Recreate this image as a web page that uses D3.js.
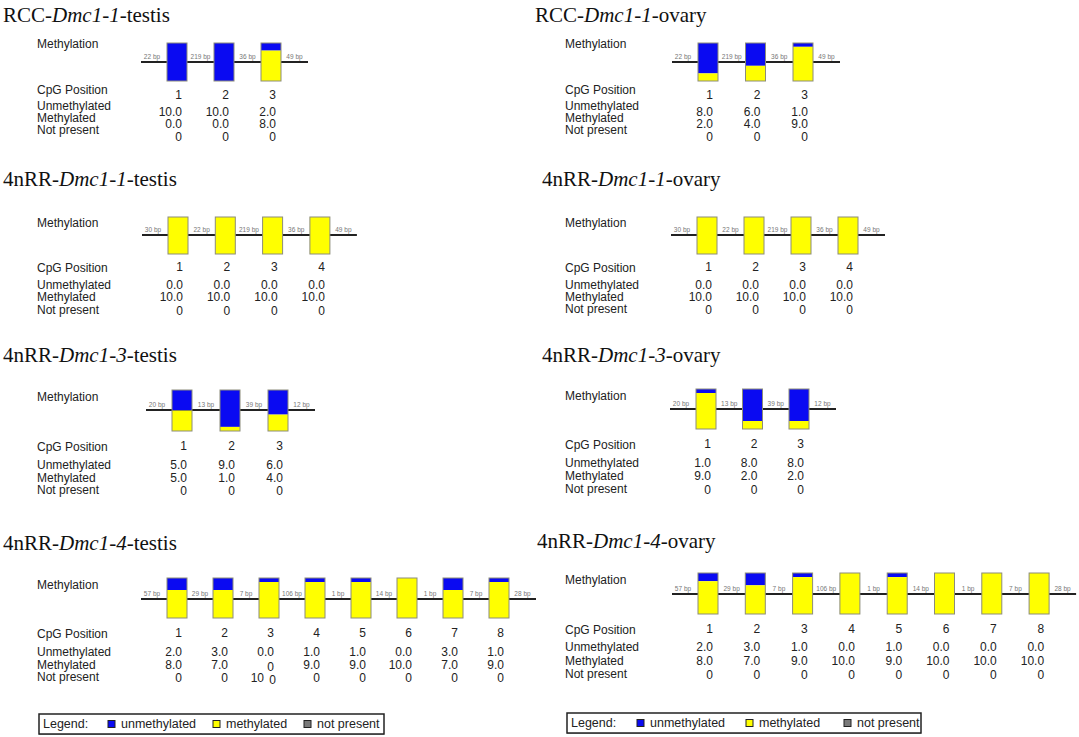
<!DOCTYPE html>
<html>
<head>
<meta charset="utf-8">
<script src="https://cdn.jsdelivr.net/npm/d3@7"></script>
<style>
  body { margin: 0; background: #fff; }
  svg { display: block; }
</style>
</head>
<body>
<div id="chart"></div>
<script>
// ---- data ----
// base-pair gaps between CpG sites, one list per amplicon
var gapsRCC = [22, 219, 36, 49];
var gapsDmc1_1 = [30, 22, 219, 36, 49];
var gapsDmc1_3 = [20, 13, 39, 12];
var gapsDmc1_4 = [57, 29, 7, 106, 1, 14, 1, 7, 28];

// clone counts per CpG site (10 clones each)
var rccTestisUn = [10, 10, 2],  rccTestisMe = [0, 0, 8];
var rccOvaryUn = [8, 6, 1],     rccOvaryMe = [2, 4, 9];
var d11TestisUn = [0, 0, 0, 0], d11TestisMe = [10, 10, 10, 10];
var d11OvaryUn = [0, 0, 0, 0],  d11OvaryMe = [10, 10, 10, 10];
var d13TestisUn = [5, 9, 6],    d13TestisMe = [5, 1, 4];
var d13OvaryUn = [1, 8, 8],     d13OvaryMe = [9, 2, 2];
var d14TestisUn = [2, 3, 0, 1, 1, 0, 3, 1], d14TestisMe = [8, 7, 10, 9, 9, 10, 7, 9];
var d14OvaryUn = [2, 3, 1, 0, 1, 0, 0, 0],  d14OvaryMe = [8, 7, 9, 10, 9, 10, 10, 10];
// the testis Dmc1-4 bars are drawn with slightly different blue parts than the table
var d14TestisBarUn = [3, 3, 1, 1, 1, 0, 3, 1];

var rowLabels = ["Unmethylated", "Methylated", "Not present"];
var legendItems = ["unmethylated", "methylated", "not present"];
var clones = 10;

var colors = {un: "#0a0af2", me: "#ffff00", np: "#7a7a7a"};

// ---- layout of the eight panels ----
var panels = [
  {title: ["RCC-", "Dmc1-1", "-testis"], tx: 3, ty: 22, lx: 37, methY: 44, lineY: 62,
   barTop: 43, barH: 38, bar0: 167, step: 47, cpgY: 90, rowY: [106, 118, 130], vdy: 6,
   gaps: gapsRCC, un: rccTestisUn, me: rccTestisMe},
  {title: ["RCC-", "Dmc1-1", "-ovary"], tx: 535, ty: 22, lx: 565, methY: 44, lineY: 62,
   barTop: 43, barH: 38, bar0: 698, step: 47.5, cpgY: 90, rowY: [106, 118, 130], vdy: 6,
   gaps: gapsRCC, un: rccOvaryUn, me: rccOvaryMe},
  {title: ["4nRR-", "Dmc1-1", "-testis"], tx: 3, ty: 186, lx: 37, methY: 223, lineY: 235,
   barTop: 217, barH: 37, bar0: 168, step: 47.3, cpgY: 268, rowY: [285, 297, 310], vdy: 0,
   gaps: gapsDmc1_1, un: d11TestisUn, me: d11TestisMe},
  {title: ["4nRR-", "Dmc1-1", "-ovary"], tx: 542, ty: 186, lx: 565, methY: 223, lineY: 235,
   barTop: 217, barH: 37, bar0: 697, step: 47, cpgY: 268, rowY: [285, 297, 309], vdy: 0,
   gaps: gapsDmc1_1, un: d11OvaryUn, me: d11OvaryMe},
  {title: ["4nRR-", "Dmc1-3", "-testis"], tx: 3, ty: 362, lx: 37, methY: 397, lineY: 410,
   barTop: 390, barH: 41, bar0: 172, step: 48, cpgY: 447, rowY: [465, 478, 490], vdy: 0,
   gaps: gapsDmc1_3, un: d13TestisUn, me: d13TestisMe},
  {title: ["4nRR-", "Dmc1-3", "-ovary"], tx: 542, ty: 362, lx: 565, methY: 396, lineY: 409,
   barTop: 389, barH: 40, bar0: 696, step: 46.5, cpgY: 445, rowY: [463, 476, 489], vdy: 0,
   gaps: gapsDmc1_3, un: d13OvaryUn, me: d13OvaryMe},
  {title: ["4nRR-", "Dmc1-4", "-testis"], tx: 3, ty: 550, lx: 37, methY: 585, lineY: 599,
   barTop: 578, barH: 40, bar0: 167, step: 46, cpgY: 634, rowY: [652, 665, 677], vdy: 0,
   gaps: gapsDmc1_4, un: d14TestisUn, me: d14TestisMe, barUn: d14TestisBarUn, glitch: 2},
  {title: ["4nRR-", "Dmc1-4", "-ovary"], tx: 537, ty: 548, lx: 565, methY: 580, lineY: 594,
   barTop: 573, barH: 41, bar0: 698, step: 47.3, cpgY: 630, rowY: [647, 661, 674], vdy: 0,
   gaps: gapsDmc1_4, un: d14OvaryUn, me: d14OvaryMe}
];

var legends = [
  {x: 39, y: 714, w: 345, sw: [69, 174, 265]},
  {x: 567, y: 713, w: 354, sw: [70, 179, 277]}
];

var svg = d3.select("#chart").append("svg")
    .attr("width", 1079)
    .attr("height", 737)
    .style("font-family", "'Liberation Sans', Arial, sans-serif");

var barW = 20;

panels.forEach(function (p) {
    var g = svg.append("g");
    var n = p.un.length;
    var sites = d3.range(1, n + 1);

    // column position of each CpG site
    var x = d3.scalePoint()
        .domain(sites)
        .range([p.bar0 + barW / 2, p.bar0 + barW / 2 + (n - 1) * p.step]);
    // clone count -> bar height
    var h = d3.scaleLinear().domain([0, clones]).range([0, p.barH]);

    // title with italic gene name
    var t = g.append("text")
        .attr("x", p.tx).attr("y", p.ty)
        .style("font-family", "'Liberation Serif', 'Times New Roman', serif")
        .style("font-size", "21px")
        .attr("fill", "#111");
    t.append("tspan").text(p.title[0]);
    t.append("tspan").style("font-style", "italic").text(p.title[1]);
    t.append("tspan").text(p.title[2]);

    // left labels
    var lab = function (txt, y) {
        g.append("text").attr("x", p.lx).attr("y", y)
            .attr("dominant-baseline", "central")
            .style("font-size", "12px").attr("fill", "#222").text(txt);
    };
    lab("Methylation", p.methY);
    lab("CpG Position", p.cpgY);
    rowLabels.forEach(function (r, i) { lab(r, p.rowY[i]); });

    // sequence line
    var x0 = x(1) - barW / 2 - 26, x1 = x(n) + barW / 2 + 27;
    g.append("line")
        .attr("x1", x0).attr("x2", x1)
        .attr("y1", p.lineY).attr("y2", p.lineY)
        .attr("stroke", "#222").attr("stroke-width", 1.8);

    // bp labels centred in each gap
    g.selectAll(".bp").data(p.gaps).enter().append("text")
        .attr("class", "bp")
        .attr("x", function (d, i) {
            var a = i === 0 ? x0 : x(i) + barW / 2;
            var b = i === n ? x1 : x(i + 1) - barW / 2;
            return (a + b) / 2 - (i === 0 ? 2 : 0);
        })
        .attr("y", p.lineY - 3)
        .attr("text-anchor", "middle")
        .style("font-size", "6.5px").attr("fill", "#777")
        .text(function (d) { return d + " bp"; });

    // stacked bars: unmethylated on top, methylated below
    var barUn = p.barUn || p.un;
    var cols = g.selectAll(".site").data(sites).enter().append("g").attr("class", "site");
    cols.append("rect")
        .attr("x", function (d) { return x(d) - barW / 2; })
        .attr("y", p.barTop)
        .attr("width", barW)
        .attr("height", function (d, i) { return h(barUn[i]); })
        .attr("fill", colors.un);
    cols.append("rect")
        .attr("x", function (d) { return x(d) - barW / 2; })
        .attr("y", function (d, i) { return p.barTop + h(barUn[i]); })
        .attr("width", barW)
        .attr("height", function (d, i) { return p.barH - h(barUn[i]); })
        .attr("fill", colors.me);
    cols.append("rect")
        .attr("x", function (d) { return x(d) - barW / 2; })
        .attr("y", p.barTop)
        .attr("width", barW).attr("height", p.barH)
        .attr("fill", "none").attr("stroke", "#8c8c7a").attr("stroke-width", 1);

    // table of numbers, right aligned a little right of each bar centre
    var val = function (txt, cx, y) {
        g.append("text").attr("x", cx + 5).attr("y", y)
            .attr("text-anchor", "end").attr("dominant-baseline", "central")
            .style("font-size", "12px").attr("fill", "#222").text(txt);
    };
    sites.forEach(function (s, i) {
        var cx = x(s);
        var np = clones - p.un[i] - p.me[i];
        val(s, cx, p.cpgY + p.vdy - 1);
        val(p.un[i].toFixed(1), cx, p.rowY[0] + p.vdy);
        if (p.glitch === i) {
            // misprinted cell in the original: "0" then a stray "10" one row down
            val("0", cx, p.rowY[1] + 2);
            g.append("text").attr("x", cx - 5).attr("y", p.rowY[2] + 1)
                .attr("text-anchor", "end").attr("dominant-baseline", "central")
                .style("font-size", "12px").attr("fill", "#222").text(p.me[i]);
            val(np, cx + 2, p.rowY[2] + 3);
        } else {
            val(p.me[i].toFixed(1), cx, p.rowY[1] + p.vdy);
            val(np, cx, p.rowY[2] + p.vdy + 1);
        }
    });
});

// legends
legends.forEach(function (L) {
    var g = svg.append("g").attr("transform", "translate(" + L.x + "," + L.y + ")");
    g.append("rect").attr("width", L.w).attr("height", 20)
        .attr("fill", "#fff").attr("stroke", "#222").attr("stroke-width", 1.5);
    g.append("line").attr("x1", 0).attr("x2", L.w).attr("y1", 20.5).attr("y2", 20.5)
        .attr("stroke", "#444").attr("stroke-width", 1);
    g.append("text").attr("x", 4).attr("y", 10)
        .attr("dominant-baseline", "central")
        .style("font-size", "12.5px").attr("fill", "#222").text("Legend:");
    var fills = [colors.un, colors.me, colors.np];
    legendItems.forEach(function (item, i) {
        g.append("rect").attr("x", L.sw[i]).attr("y", 6.5).attr("width", 7).attr("height", 7)
            .attr("fill", fills[i]).attr("stroke", "#222").attr("stroke-width", 1);
        g.append("text").attr("x", L.sw[i] + 13).attr("y", 10)
            .attr("dominant-baseline", "central")
            .style("font-size", "12.5px").attr("fill", "#222").text(item);
    });
});
</script>
</body>
</html>
